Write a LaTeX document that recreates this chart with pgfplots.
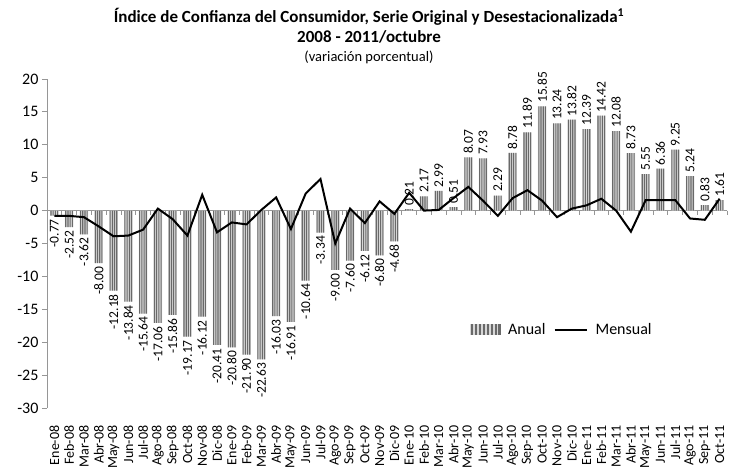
\documentclass[border=0pt]{standalone}
\usepackage{pgfplots}
\usepackage{pgfplotstable}
\pgfplotsset{compat=1.18}
\usepackage{fontspec}
\setmainfont{Carlito}
\definecolor{axgray}{RGB}{150,150,150}
\definecolor{barlight}{RGB}{215,215,215}
\definecolor{bardark}{RGB}{105,105,105}
\pgfplotstableread{
x y
0 -0.77
1 -2.52
2 -3.62
3 -8.00
4 -12.18
5 -13.84
6 -15.64
7 -17.06
8 -15.86
9 -19.17
10 -16.12
11 -20.41
12 -20.80
13 -21.90
14 -22.63
15 -16.03
16 -16.91
17 -10.64
18 -3.34
19 -9.00
20 -7.60
21 -6.12
22 -6.80
23 -4.68
}\anualneg
\pgfplotstableread{
x y
24 0.21
25 2.17
26 2.99
27 0.51
28 8.07
29 7.93
30 2.29
31 8.78
32 11.89
33 15.85
34 13.24
35 13.82
36 12.39
37 14.42
38 12.08
39 8.73
40 5.55
41 6.36
42 9.25
43 5.24
44 0.83
45 1.61
}\anualpos
\pgfplotstableread{
x y
0 -0.8
1 -0.8
2 -1.0
3 -2.4
4 -3.9
5 -3.8
6 -2.9
7 0.3
8 -1.3
9 -3.8
10 2.4
11 -3.3
12 -1.8
13 -2.1
14 0.1
15 2.0
16 -2.8
17 2.6
18 4.8
19 -5.0
20 0.3
21 -1.9
22 1.4
23 -0.5
24 2.7
25 0.0
26 0.1
27 1.9
28 3.6
29 1.5
30 -0.8
31 1.9
32 3.1
33 1.5
34 -1.0
35 0.3
36 0.8
37 1.8
38 0.0
39 -3.2
40 1.6
41 1.6
42 1.6
43 -1.2
44 -1.4
45 1.8
}\mensual
\begin{document}
\begin{tikzpicture}
\useasboundingbox (0,0) rectangle (729pt,470pt);
\node[font=\fontsize{17}{19}\selectfont\bfseries] at (369pt,453pt) {Índice de Confianza del Consumidor, Serie Original y Desestacionalizada\textsuperscript{1}};
\node[font=\fontsize{17}{19}\selectfont\bfseries] at (369pt,433pt) {2008 - 2011/octubre};
\node[font=\fontsize{14.5}{16}\selectfont] at (369pt,413pt) {(variación porcentual)};
\begin{axis}[
  at={(47pt,62pt)}, anchor=south west,
  scale only axis, width=680pt, height=329pt,
  xmin=-0.5, xmax=45.5, ymin=-30, ymax=20,
  ytick={-30,-25,...,20},
  axis y line*=left,
  axis x line*=bottom,
  x axis line style={draw=none},
  y axis line style={axgray, line width=0.8pt},
  ytick style={axgray, line width=0.8pt},
  xtick style={draw=none},
  tick align=outside,
  major tick length=5pt,
  xtick={0,...,45},
  xticklabels={Ene-08,Feb-08,Mar-08,Abr-08,May-08,Jun-08,Jul-08,Ago-08,Sep-08,Oct-08,Nov-08,Dic-08,Ene-09,Feb-09,Mar-09,Abr-09,May-09,Jun-09,Jul-09,Ago-09,Sep-09,Oct-09,Nov-09,Dic-09,Ene-10,Feb-10,Mar-10,Abr-10,May-10,Jun-10,Jul-10,Ago-10,Sep-10,Oct-10,Nov-10,Dic-10,Ene-11,Feb-11,Mar-11,Abr-11,May-11,Jun-11,Jul-11,Ago-11,Sep-11,Oct-11},
  xticklabel style={rotate=90, anchor=east, font=\fontsize{14}{16}\selectfont, xshift=-9pt},
  yticklabel style={font=\fontsize{16}{18}\selectfont},
  /pgf/number format/assume math mode=true,
  legend style={at={(0.617,0.238)}, anchor=west, draw=none, fill=none, legend columns=2, font=\fontsize{16}{18}\selectfont, column sep=6pt},
  legend cell align=left,
  clip=false,
  bar stripe/.style={ybar, bar width=1.1pt, bar shift=#1, draw=none, fill=bardark, forget plot},
]
\draw[axgray, line width=0.8pt] (axis cs:-0.5,0) -- (axis cs:45.5,0);
\pgfplotsinvokeforeach{-0.5,0.5,...,45.5}{\draw[axgray, line width=0.8pt] (axis cs:#1,0) -- (axis cs:#1,-0.6);}
% base bars (light) with labels
\addplot[ybar, bar width=8.5pt, bar shift=0pt, draw=none, fill=barlight,
  nodes near coords, point meta=explicit,
  every node near coord/.append style={rotate=90, anchor=east, font=\fontsize{13.5}{15}\selectfont, /pgf/number format/.cd, fixed, fixed zerofill, precision=2, assume math mode=true},
  forget plot] table[meta=y] {\anualneg};
\addplot[ybar, bar width=8.5pt, bar shift=0pt, draw=none, fill=barlight,
  nodes near coords, point meta=explicit,
  every node near coord/.append style={rotate=90, anchor=west, font=\fontsize{13.5}{15}\selectfont, /pgf/number format/.cd, fixed, fixed zerofill, precision=2, assume math mode=true},
  forget plot] table[meta=y] {\anualpos};
% dark stripes
\addplot[bar stripe=-3.4pt] table {\anualneg};
\addplot[bar stripe=-1.2pt] table {\anualneg};
\addplot[bar stripe=1.0pt] table {\anualneg};
\addplot[bar stripe=3.2pt] table {\anualneg};
\addplot[bar stripe=-3.4pt] table {\anualpos};
\addplot[bar stripe=-1.2pt] table {\anualpos};
\addplot[bar stripe=1.0pt] table {\anualpos};
\addplot[bar stripe=3.2pt] table {\anualpos};
\addlegendimage{legend image code/.code={
  \fill[barlight] (0pt,-5pt) rectangle (30pt,5pt);
  \foreach \s in {1,5,9,13,17,21,25,28.5} {\fill[bardark] (\s pt,-5pt) rectangle ++(1.3pt,10pt);}
}}
\addlegendentry{Anual}
\addplot[black, line width=2pt, mark=none, sharp plot,
  legend image code/.code={\draw[black, line width=2pt] (0pt,0pt) -- (32pt,0pt);}] table {\mensual};
\addlegendentry{Mensual}
\end{axis}
\end{tikzpicture}
\end{document}
